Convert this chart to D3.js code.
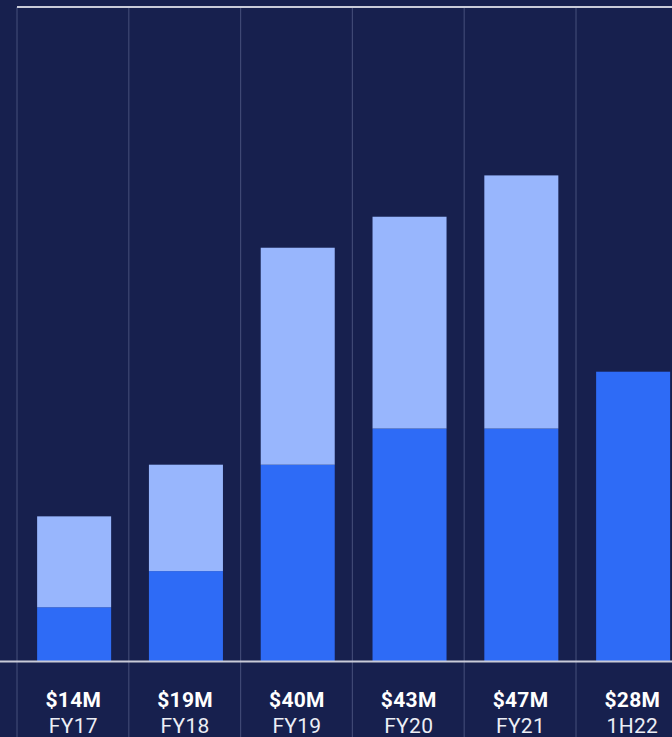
<!DOCTYPE html>
<html>
<head>
<meta charset="utf-8">
<script src="https://cdn.jsdelivr.net/npm/d3@7"></script>
<style>
  html, body { margin: 0; padding: 0; background: #17204e; }
  svg { display: block; }
</style>
</head>
<body>
<svg id="chart" width="672" height="737"></svg>
<script>
// Periods and funding split ($M): lower segment and upper segment
const categories = ["FY17", "FY18", "FY19", "FY20", "FY21", "1H22"];
const baseValues = [5.2, 8.7, 19.0, 22.5, 22.5, 28.0];
const topValues  = [8.8, 10.3, 21.0, 20.5, 24.5, 0];
const totalLabels = ["$14M", "$19M", "$40M", "$43M", "$47M", "$28M"];
const yDomain = [0, 63.3];

const W = 672, H = 737;
const svg = d3.select("#chart");

svg.append("rect").attr("width", W).attr("height", H).attr("fill", "#17204e");

const x = d3.scaleBand().domain(categories).range([17, 17 + 6 * 111.8]).padding(0);
const y = d3.scaleLinear().domain(yDomain).range([661, 7]);

const bw = x.bandwidth();
const barW = bw * 0.662;
const barOff = bw * 0.18;

// vertical separators at each band edge
const edges = categories.map(c => x(c)).concat([x.range()[1]]);
svg.append("g").selectAll("line").data(edges).join("line")
  .attr("x1", d => d).attr("x2", d => d)
  .attr("y1", y(yDomain[1])).attr("y2", H)
  .attr("stroke", "#3f4874").attr("stroke-width", 1.2);

// top rule
svg.append("line")
  .attr("x1", 17).attr("x2", W)
  .attr("y1", y(yDomain[1])).attr("y2", y(yDomain[1]))
  .attr("stroke", "#c9cbd8").attr("stroke-width", 2);

const rows = categories.map((c, i) => ({ c, base: baseValues[i], top: topValues[i], label: totalLabels[i] }));

const bars = svg.append("g");
// lower segment
bars.selectAll("rect.base").data(rows).join("rect")
  .attr("class", "base")
  .attr("x", d => x(d.c) + barOff)
  .attr("width", barW)
  .attr("y", d => y(d.base))
  .attr("height", d => y(0) - y(d.base))
  .attr("fill", "#2e6bf6");
// upper segment
bars.selectAll("rect.top").data(rows.filter(d => d.top > 0)).join("rect")
  .attr("class", "top")
  .attr("x", d => x(d.c) + barOff)
  .attr("width", barW)
  .attr("y", d => y(d.base + d.top))
  .attr("height", d => y(d.base) - y(d.base + d.top))
  .attr("fill", "#98b6fd");

// baseline
svg.append("line")
  .attr("x1", 0).attr("x2", W)
  .attr("y1", y(0) + 0.5).attr("y2", y(0) + 0.5)
  .attr("stroke", "#c9cbd8").attr("stroke-width", 2);

// labels under each bar
const lab = svg.append("g").attr("font-family", "Roboto, 'Noto Sans', sans-serif").attr("text-anchor", "middle");
lab.selectAll("text.total").data(rows).join("text")
  .attr("class", "total")
  .attr("x", d => x(d.c) + barOff + barW / 2 - 0.8)
  .attr("y", 707.3)
  .attr("font-size", 21).attr("font-weight", 700)
  .attr("letter-spacing", 0.3)
  .attr("fill", "#ffffff")
  .text(d => d.label);
lab.selectAll("text.cat").data(rows).join("text")
  .attr("class", "cat")
  .attr("x", d => x(d.c) + barOff + barW / 2 - 0.8)
  .attr("y", 733.3)
  .attr("font-size", 21).attr("font-weight", 400)
  .attr("letter-spacing", 0.3)
  .attr("fill", "#eceef5")
  .text(d => d.c);
</script>
</body>
</html>
